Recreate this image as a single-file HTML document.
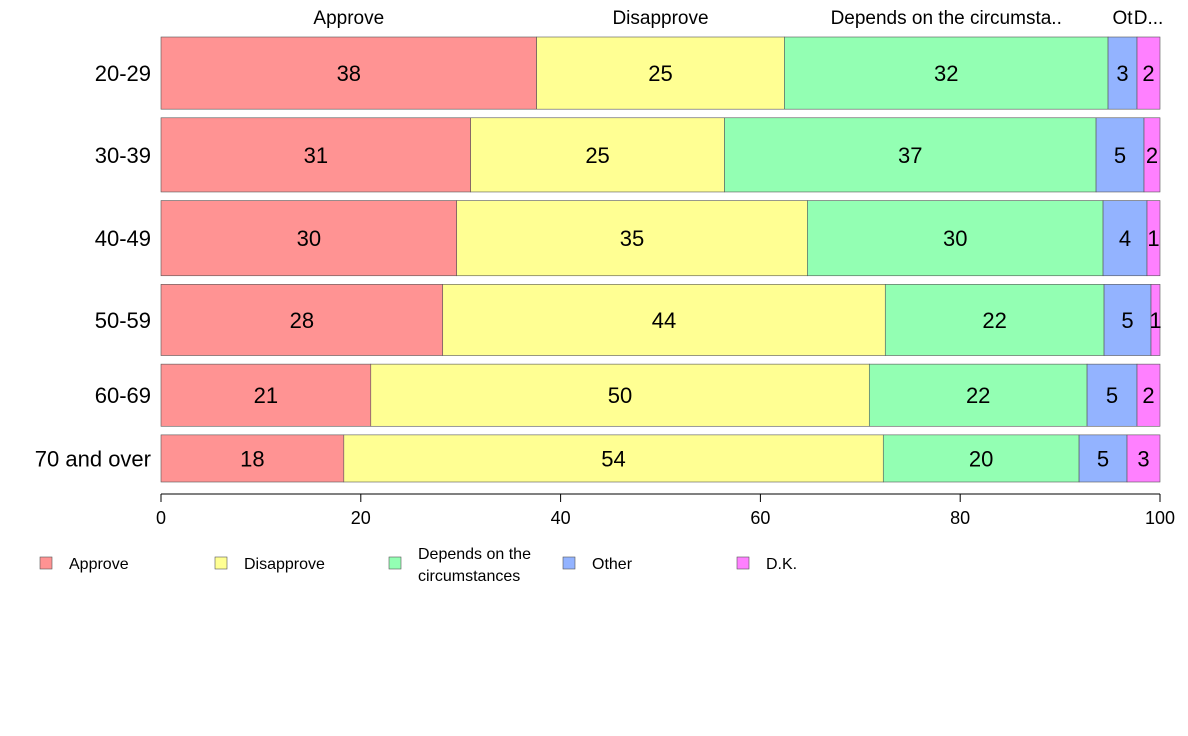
<!DOCTYPE html>
<html><head><meta charset="utf-8"><style>
html,body{margin:0;padding:0;background:#fff;width:1188px;height:736px;overflow:hidden;font-family:"Liberation Sans",Arial,sans-serif}
</style></head><body>
<svg id="chart" width="1188" height="736" xmlns="http://www.w3.org/2000/svg" font-family="Liberation Sans, Arial, sans-serif"></svg>
<script>
const categories = ["20-29","30-39","40-49","50-59","60-69","70 and over"];
const seriesNames = ["Approve","Disapprove","Depends on the circumstances","Other","D.K."];
const headerLabels = ["Approve","Disapprove","Depends on the circumsta..","Ot","D..."];
const approve    = [37.6,31.0,29.6,28.2,21.0,18.3];
const disapprove = [24.8,25.4,35.1,44.3,49.9,54.0];
const depends    = [32.4,37.2,29.6,21.9,21.8,19.6];
const other      = [2.9,4.8,4.4,4.7,5.0,4.8];
const dk         = [2.3,1.6,1.3,0.9,2.3,3.3];
const rowWeights = [72,74,75,71,62,47];
const xTicks = [0,20,40,60,80,100];
const colors = ["#ff9393","#ffff93","#93ffb3","#93b3ff","#ff80ff"];

const svg = document.getElementById('chart');
const NS = "http://www.w3.org/2000/svg";
const x0 = 161, x1 = 1160, yTop = 37, yBot = 482, gap = 8.6;
const xs = v => x0 + (x1 - x0) * v / 100;
function mk(tag, attrs, txt){const e=document.createElementNS(NS,tag);for(const k in attrs)e.setAttribute(k,attrs[k]);if(txt!==undefined)e.textContent=txt;svg.appendChild(e);return e;}

const series = [approve,disapprove,depends,other,dk];
const totalW = rowWeights.reduce((a,b)=>a+b,0);
const avail = (yBot - yTop) - gap*(categories.length-1);
let y = yTop;
categories.forEach((cat,i)=>{
  const h = avail * rowWeights[i] / totalW;
  let cum = 0;
  series.forEach((s,j)=>{
    const v = s[i];
    const r = mk('rect',{x:xs(cum),y:y,width:xs(cum+v)-xs(cum),height:h,fill:colors[j],stroke:'#555','stroke-width':0.6});
    
    
    const t = mk('text',{x:(xs(cum)+xs(cum+v))/2,y:y+h/2+8,'text-anchor':'middle','font-size':22,fill:'#000'},String(Math.round(v)));
    
    
    if(i===0){
      const ht = mk('text',{x:(xs(cum)+xs(cum+v))/2,y:24,'text-anchor':'middle','font-size':19,fill:'#000'},headerLabels[j]);
      
      
    }
    cum += v;
  });
  const lt = mk('text',{x:151,y:y+h/2+8,'text-anchor':'end','font-size':22,fill:'#000'},cat);
  
  
  y += h + gap;
});

const ax = mk('line',{x1:x0,x2:x1,y1:494,y2:494,stroke:'#000','stroke-width':1});


xTicks.forEach(v=>{
  const tl = mk('line',{x1:xs(v),x2:xs(v),y1:494,y2:502,stroke:'#000','stroke-width':1});
  
  
  const tt = mk('text',{x:xs(v),y:524,'text-anchor':'middle','font-size':18,fill:'#000'},String(v));
  
  
});

const legX = [40,215,389,563,737];
seriesNames.forEach((n,j)=>{
  const b = mk('rect',{x:legX[j],y:557,width:12,height:12,fill:colors[j],stroke:'#555','stroke-width':0.6});
  
  
  if(j===2){
    const t1 = mk('text',{x:legX[j]+29,y:559,'font-size':16,fill:'#000'},"Depends on the");
    
    
    const t2 = mk('text',{x:legX[j]+29,y:581,'font-size':16,fill:'#000'},"circumstances");
    
    
  } else {
    const t = mk('text',{x:legX[j]+29,y:569,'font-size':16,fill:'#000'},n);
    
    
  }
});
</script>
</body></html>
